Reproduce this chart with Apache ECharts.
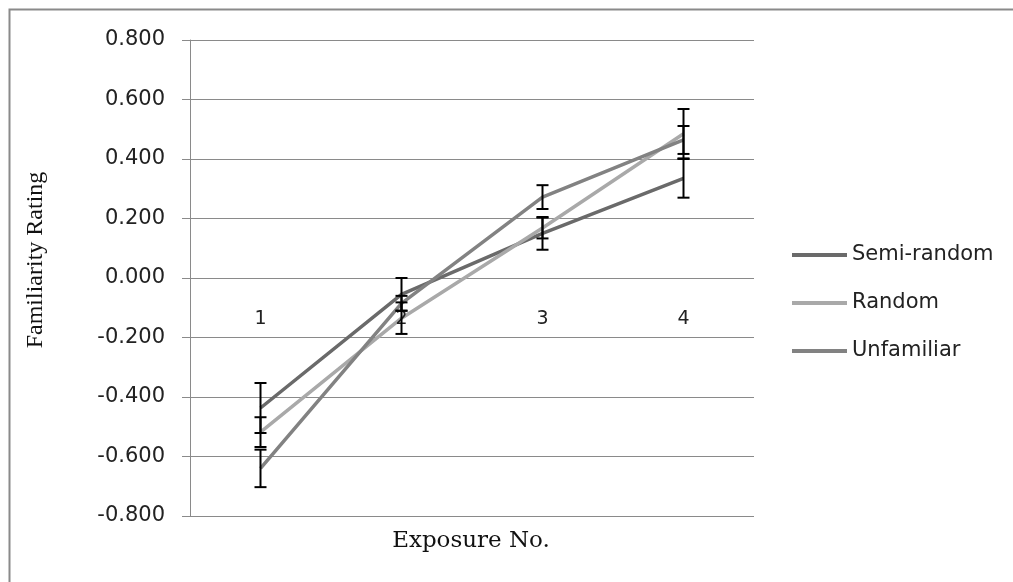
<!DOCTYPE html>
<html>
<head>
<meta charset="utf-8">
<script src="https://cdn.jsdelivr.net/npm/echarts@6/dist/echarts.min.js"></script>
<style>
html,body{margin:0;padding:0;background:#fff;}
#chart{width:1013px;height:582px;}
</style>
</head>
<body>
<div id="chart"></div>
<script>
// ---- data ----
var categories = ['1', '2', '3', '4'];
var seriesNames = ['Semi-random', 'Random', 'Unfamiliar'];
var semiRandom = [-0.437, -0.055, 0.150, 0.335];
var randomVals = [-0.518, -0.135, 0.168, 0.485];
var unfamiliar = [-0.640, -0.085, 0.272, 0.464];
var semiRandomErr = [0.084, 0.055, 0.055, 0.065];
var randomErr = [0.050, 0.053, 0.035, 0.083];
var unfamiliarErr = [0.063, 0.025, 0.040, 0.047];
var yTicks = { min: -0.8, max: 0.8, interval: 0.2 };

var colors = ['#6a6a6a', '#a9a9a9', '#828282'];
var values = [semiRandom, randomVals, unfamiliar];
var errs = [semiRandomErr, randomErr, unfamiliarErr];

var GRID = { left: 190, right: 259, top: 40, bottom: 66 };
var plotH = 582 - GRID.top - GRID.bottom;
// distance from the bottom of the plot up to the y = 0 line
var zeroFromBottom = plotH * (0 - yTicks.min) / (yTicks.max - yTicks.min);

var chart = echarts.init(document.getElementById('chart'));

var series = [];
values.forEach(function (vals, i) {
  series.push({
    name: seriesNames[i],
    type: 'line',
    data: vals,
    symbol: 'none',
    lineStyle: { color: colors[i], width: 3.5 },
    itemStyle: { color: colors[i] },
    z: 2 + i
  });
});
values.forEach(function (vals, i) {
  var errData = vals.map(function (v, k) { return [k, v, errs[i][k]]; });
  series.push({
    type: 'custom',
    name: seriesNames[i] + ' err',
    data: errData,
    z: 10,
    renderItem: function (params, api) {
      var x = api.value(0), v = api.value(1), e = api.value(2);
      var top = api.coord([x, v + e]);
      var bot = api.coord([x, v - e]);
      var cw = 6;
      var st = { stroke: '#000', lineWidth: 2 };
      return {
        type: 'group',
        children: [
          { type: 'line', shape: { x1: top[0], y1: top[1], x2: bot[0], y2: bot[1] }, style: st },
          { type: 'line', shape: { x1: top[0] - cw, y1: top[1], x2: top[0] + cw, y2: top[1] }, style: st },
          { type: 'line', shape: { x1: bot[0] - cw, y1: bot[1], x2: bot[0] + cw, y2: bot[1] }, style: st }
        ]
      };
    }
  });
});

chart.setOption({
  animation: false,
  backgroundColor: '#fff',
  graphic: [{
    type: 'rect',
    shape: { x: 9.5, y: 9.5, width: 1100, height: 700 },
    style: { fill: 'none', stroke: '#8a8a8a', lineWidth: 2 },
    z: 100
  }, {
    type: 'text',
    x: 36,
    y: 260,
    rotation: Math.PI / 2,
    style: {
      text: 'Familiarity Rating',
      fontFamily: 'Liberation Serif',
      fontSize: 24,
      fill: '#111',
      align: 'center',
      verticalAlign: 'middle'
    }
  }, {
    type: 'text',
    x: 471,
    y: 541,
    style: {
      text: 'Exposure No.',
      fontFamily: 'DejaVu Serif',
      fontSize: 23,
      fill: '#111',
      align: 'center',
      verticalAlign: 'middle'
    }
  }],
  grid: {
    left: GRID.left, right: GRID.right, top: GRID.top, bottom: GRID.bottom,
    containLabel: false, outerBoundsMode: 'none'
  },
  legend: {
    orient: 'vertical',
    left: 787,
    top: 238,
    data: seriesNames,
    icon: 'rect',
    itemWidth: 55,
    itemHeight: 4,
    itemGap: 24,
    textStyle: { fontFamily: 'DejaVu Sans', fontSize: 21, color: '#222', lineHeight: 24 }
  },
  xAxis: {
    type: 'category',
    data: categories,
    boundaryGap: true,
    z: 6,
    axisLine: { show: false, onZero: false },
    axisTick: { show: false },
    axisLabel: {
      interval: 0, hideOverlap: false,
      margin: 32 - zeroFromBottom,
      fontFamily: 'DejaVu Sans', fontSize: 19, color: '#222'
    },
    splitLine: { show: false }
  },
  yAxis: {
    type: 'value',
    min: yTicks.min,
    max: yTicks.max,
    interval: yTicks.interval,
    axisLine: { show: true, onZero: false, lineStyle: { color: '#8a8a8a', width: 1 } },
    axisTick: { show: true, length: 8, lineStyle: { color: '#8a8a8a' } },
    axisLabel: {
      margin: 25,
      fontFamily: 'DejaVu Sans',
      fontSize: 21,
      color: '#222',
      formatter: function (v) { return v.toFixed(3); }
    },
    splitLine: { show: true, lineStyle: { color: '#8a8a8a', width: 1 } }
  },
  series: series
});
</script>
</body>
</html>
